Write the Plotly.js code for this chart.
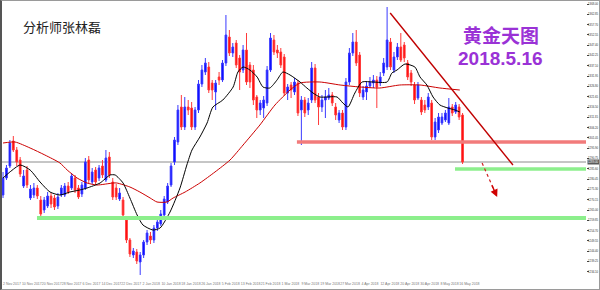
<!DOCTYPE html>
<html>
<head>
<meta charset="utf-8">
<script src="https://cdn.plot.ly/plotly-3.0.1.min.js"></script>
<style>
  html, body { margin: 0; padding: 0; background: #fff; }
  #wrap { position: relative; width: 600px; height: 290px; overflow: hidden; }
  #chart { position: absolute; left: 0; top: 0; width: 600px; height: 290px; }
  #frame { position: absolute; left: 0; top: 0; width: 600px; height: 290px; box-sizing: border-box;
           border: 1px solid #9a9a9a; border-left: 2px solid #555; pointer-events: none; }
</style>
</head>
<body>
<div id="wrap"><div id="chart"></div><div id="frame"></div></div>
<script>
// ---- OHLC data (gold, daily) ----
const open = [1272.5,1281,1287,1299.5,1295,1290,1277,1285,1271,1272.5,1276,1270,1265,1267,1272,1271,1267,1272.5,1272.5,1277,
  1276,1281,1276,1273,1276,1290,1279,1285,1281,1287,1280,1291.5,1279,1276,1270.5,1270,1260,1250,1242.5,1244,
  1239,1242.5,1249,1252,1250,1256,1258,1262.5,1269,1277.5,1289,1299,1316.5,1306.5,1316.5,1316,1306.5,1315,1328,1334,
  1336.5,1328.5,1324,1331.5,1330,1338.5,1351.5,1343.5,1348.5,1341,1335,1345,1337.5,1335,1321.5,1315,1316,1318.5,1335,1350,
  1345,1344,1341.5,1323.5,1327.5,1324,1328.5,1315,1320,1315,1320,1336,1321.5,1316.5,1320,1321,1322.5,1316.5,1310,1313.5,
  1306.5,1329,1343.5,1349,1342.5,1321.5,1324,1327,1328.5,1330,1328.5,1333.5,1336.5,1349,1335,1341.5,1346.5,1347.5,1338.5,1333.5,
  1327.5,1321,1320,1317.5,1316.5,1318.5,1301.5,1305,1308.5,1310,1308.5,1316.5,1314,1316.5,1312.5];
const high = [1284,1287.5,1300,1302,1296.5,1291.5,1285,1287,1277.5,1278.5,1277.5,1272,1271.5,1274,1273.5,1272.5,1273.5,1277.5,1278.5,1279,
  1283.5,1282.5,1277.5,1279,1291,1292,1286,1286.5,1287.5,1290,1295,1294,1281,1278,1276,1271.5,1261,1251,1246,1245.5,
  1244,1250,1255,1254,1257.5,1261,1265,1272,1278.5,1288.5,1301.5,1317.5,1322.5,1321.5,1320,1319,1316.5,1330,1337.5,1341,
  1339,1330,1330,1334,1340,1362.5,1355,1348.5,1350,1342.5,1347.5,1353.5,1339,1337.5,1322.5,1320,1322,1337,1353.5,1352.5,
  1347.5,1346,1343,1328,1329,1331,1330,1322,1321.5,1321,1339,1338,1323.5,1322.5,1325,1326,1324,1318.5,1315,1315,
  1331,1346,1353.5,1355,1344,1327,1329,1331.5,1332.5,1332,1334,1341,1366.5,1351,1344,1348.5,1353.5,1349,1340,1335,
  1329,1329,1321.5,1320,1323.5,1320,1311,1313.5,1313.5,1315,1321,1318,1319,1318,1313.5];
const low = [1271,1280,1286,1294,1287,1281.5,1276,1276,1270,1271,1270.5,1261.5,1263.5,1266,1266,1265,1265.5,1271.5,1271.5,1273,
  1275,1273.5,1270.5,1271.5,1275,1278.5,1278,1277.5,1279.5,1281,1279,1281,1270,1270,1269.5,1261,1248.5,1241.5,1241,1238,
  1232.5,1241,1247.5,1248,1248.5,1254.5,1257,1261.5,1268,1276.5,1287.5,1297.5,1305,1305,1312.5,1305,1305,1313.5,1326.5,1332.5,
  1323.5,1320,1315,1327.5,1329,1337,1342,1341.5,1336,1325,1333.5,1327.5,1326,1317.5,1311,1312.5,1311,1317,1334,1342.5,
  1341,1336,1322,1320,1321,1322.5,1312,1297.5,1311.5,1312.5,1318.5,1318.5,1307.5,1314,1311,1320,1317,1310,1308.5,1305,
  1305,1327.5,1342,1337,1321.5,1320,1320,1326,1326,1316,1327,1332,1335,1335,1333.5,1340,1339,1339,1330,1327,
  1318,1320,1312.5,1313.5,1315,1300,1300,1303.5,1307.5,1309,1307.5,1312,1313,1310,1288];
const close = [1281,1286,1298.5,1295,1289,1283,1282,1277.5,1275.5,1276,1272,1263,1270,1272,1268,1266.5,1271.5,1276,1277,1274,
  1282,1275,1271.5,1277.5,1289,1280,1284,1279,1286,1282.5,1291,1282.5,1271.5,1271.5,1273.5,1262.5,1250,1243,1244.5,1239.5,
  1242.5,1249,1253.5,1250,1256,1259,1263,1270.5,1277,1287,1300,1315,1306.5,1316.5,1315,1306.5,1315,1328,1335,1338.5,
  1325,1325,1328.5,1330,1338.5,1352.5,1343.5,1346.5,1337.5,1334,1345,1329,1329,1320,1315,1318.5,1320,1335,1351,1344,
  1343.5,1337.5,1323.5,1326.5,1325,1329,1313.5,1320,1313.5,1318.5,1336,1320,1316.5,1320,1321.5,1322.5,1318.5,1312.5,1313.5,1306.5,
  1329,1343.5,1349,1338.5,1323.5,1325,1327,1329,1330,1326.5,1331.5,1338.5,1350,1336.5,1341.5,1346.5,1340,1341,1331.5,1329,
  1320,1327.5,1314,1315,1321.5,1301.5,1309,1311.5,1311.5,1313.5,1316.5,1313.5,1317.5,1311.5,1289];

// ---- moving averages (bar index, price) ----
const maFastX = [0,2,5,7.9,10.8,13.7,16.6,19.5,22.4,24.5,28.3,31.2,32.7,35,37,39.1,40.8,43.7,45.8,48.7,51.6,53.6,55.1,57.4,59.5,61.2,64.1,67.1,68.5,70,72,74.1,75.8,77.8,79.9,81.6,83.7,86.6,88.6,90.4,92.4,97.4,99.1,100.6,102.6,104.7,107.9,112,113.4,114.9,117.2,120.1,121.6,123.6,125.4,127.4,129.7,131.8,133.2];
const maFastY = [1281,1284,1287.5,1285,1279,1274,1272.5,1274,1275,1276,1278.5,1282.5,1282.5,1278.5,1271,1262.5,1257.5,1255,1256,1264,1276,1287.5,1295,1301.5,1308.5,1316.5,1320,1326.5,1334,1336.5,1335,1331.5,1326.5,1326,1330,1334,1332.5,1329,1326,1323.5,1321.5,1321.5,1318.5,1316.5,1323.5,1329,1329,1329,1333.5,1335,1338,1336.5,1331.5,1327.5,1321.5,1317.5,1316,1315,1314];
const maSlowX = [0,3.5,7.9,12.2,16.6,18.7,21.6,24.5,27.4,32.1,33.2,37,39.9,42.9,44.9,47.8,49.6,53.1,57.4,61.8,66.2,70,74.9,79.3,83.7,86.6,92.4,98.3,104.1,109.9,115.7,121.6,127.4,133.2];
const maSlowY = [1298.5,1299,1296,1292.5,1288.5,1285,1281,1278.5,1277.5,1278.5,1278.5,1276.5,1274,1271,1269,1269,1271,1274,1278.5,1284,1290,1297.5,1307.5,1317.5,1325,1328.5,1329,1327.5,1326.5,1326,1327.5,1327.5,1326,1325];

// ---- levels & labels ----
const currentPrice = 1289;
const resistanceLevel = 1299;
const supportLevel1 = 1285.5;
const supportLevel2 = 1261;
const dateLabels = ['2 Nov 2017','10 Nov 2017','20 Nov 2017','28 Nov 2017','6 Dec 2017','14 Dec 2017','22 Dec 2017','2 Jan 2018',
  '10 Jan 2018','18 Jan 2018','26 Jan 2018','5 Feb 2018','13 Feb 2018','21 Feb 2018','1 Mar 2018','9 Mar 2018','19 Mar 2018',
  '27 Mar 2018','4 Apr 2018','12 Apr 2018','20 Apr 2018','30 Apr 2018','8 May 2018','16 May 2018'];
const authorText = '分析师张林磊';
const titleText = '黄金天图';
const dateText = '2018.5.16';

const idx = open.map((_, i) => i);
const tickVals = dateLabels.map((_, k) => 2.6 + 5.8 * k);

const traces = [
  {
    type: 'candlestick', x: idx, open: open, high: high, low: low, close: close,
    increasing: { line: { color: '#3a3aff', width: 1 }, fillcolor: '#0000ff' },
    decreasing: { line: { color: '#ff3a3a', width: 1 }, fillcolor: '#ff0000' },
    whiskerwidth: 0, hoverinfo: 'none', showlegend: false
  },
  { type: 'scatter', mode: 'lines', x: maSlowX, y: maSlowY, line: { color: '#cc0000', width: 1, shape: 'spline', smoothing: 0.6 }, hoverinfo: 'none' },
  { type: 'scatter', mode: 'lines', x: maFastX, y: maFastY, line: { color: '#000000', width: 1, shape: 'spline', smoothing: 0.6 }, hoverinfo: 'none' }
];

const XMAX = 170;
const layout = {
  width: 600, height: 290,
  margin: { l: 2, r: 14, t: 1, b: 10, pad: 0 },
  paper_bgcolor: '#ffffff', plot_bgcolor: '#ffffff',
  showlegend: false,
  xaxis: {
    range: [-0.3, XMAX], showgrid: false, zeroline: false, showline: false,
    rangeslider: { visible: false },
    tickmode: 'array', tickvals: tickVals, ticktext: dateLabels, tickangle: 0,
    tickfont: { size: 3.5, color: '#777', family: 'Liberation Sans, Arial, sans-serif' },
    ticks: '', fixedrange: true
  },
  yaxis: {
    range: [1230, 1369.5], side: 'right', showgrid: false, zeroline: false, showline: false,
    tick0: 1368, dtick: 5.15, tickformat: '.2f',
    tickfont: { size: 2.8, color: '#333', family: 'Liberation Sans, Arial, sans-serif' },
    ticks: 'outside', ticklen: 1.5, tickcolor: '#444', ticklabelstandoff: -1, fixedrange: true
  },
  shapes: [
    { type: 'line', xref: 'x', yref: 'y', x0: -0.3, x1: XMAX, y0: currentPrice, y1: currentPrice, line: { color: '#8c8c8c', width: 1 }, layer: 'below' },
    { type: 'line', xref: 'x', yref: 'y', x0: 85.7, x1: XMAX, y0: resistanceLevel, y1: resistanceLevel, line: { color: '#f27b7b', width: 3.5 } },
    { type: 'line', xref: 'x', yref: 'y', x0: 131.8, x1: XMAX, y0: supportLevel1, y1: supportLevel1, line: { color: '#8cef8c', width: 3.5 } },
    { type: 'line', xref: 'x', yref: 'y', x0: 9.9, x1: XMAX, y0: supportLevel2, y1: supportLevel2, line: { color: '#8cef8c', width: 4 } },
    { type: 'line', xref: 'x', yref: 'y', x0: 112.9, y0: 1363.5, x1: 148.7, y1: 1287.5, line: { color: '#c00000', width: 1.4 } },
    { type: 'line', xref: 'x', yref: 'y', x0: 139.7, y0: 1288.5, x1: 143.6, y1: 1273.5, line: { color: '#d02020', width: 1.2, dash: 'dot' } }
  ],
  annotations: [
    { xref: 'x', yref: 'y', x: 144.1, y: 1271.5, ax: 142.4, ay: 1278, axref: 'x', ayref: 'y', text: '', showarrow: true,
      arrowhead: 2, arrowsize: 1, arrowwidth: 1.5, arrowcolor: '#d00000' },
    { xref: 'paper', yref: 'paper', x: 0.0325, y: 0.91, xanchor: 'left', yanchor: 'middle', showarrow: false, text: authorText,
      font: { family: 'Noto Sans CJK SC, sans-serif', size: 13, color: '#222' } },
    { xref: 'paper', yref: 'paper', x: 0.854, y: 0.88, xanchor: 'center', yanchor: 'middle', showarrow: false, text: '<b>' + titleText + '</b>',
      font: { family: 'Noto Sans CJK SC, sans-serif', size: 19, color: '#9a32d6' } },
    { xref: 'paper', yref: 'paper', x: 0.854, y: 0.793, xanchor: 'center', yanchor: 'middle', showarrow: false, text: '<b>' + dateText + '</b>',
      font: { family: 'Liberation Sans, Arial, sans-serif', size: 19, color: '#9a32d6' } },
    { xref: 'paper', yref: 'y', x: 1.002, y: currentPrice, xanchor: 'left', yanchor: 'middle', showarrow: false, text: currentPrice.toFixed(2),
      bgcolor: '#5a5a5a', borderpad: 0, font: { family: 'Liberation Sans, Arial, sans-serif', size: 2.8, color: '#fff' } }
  ]
};

Plotly.newPlot('chart', traces, layout, { staticPlot: true, displayModeBar: false });
</script>
</body>
</html>
